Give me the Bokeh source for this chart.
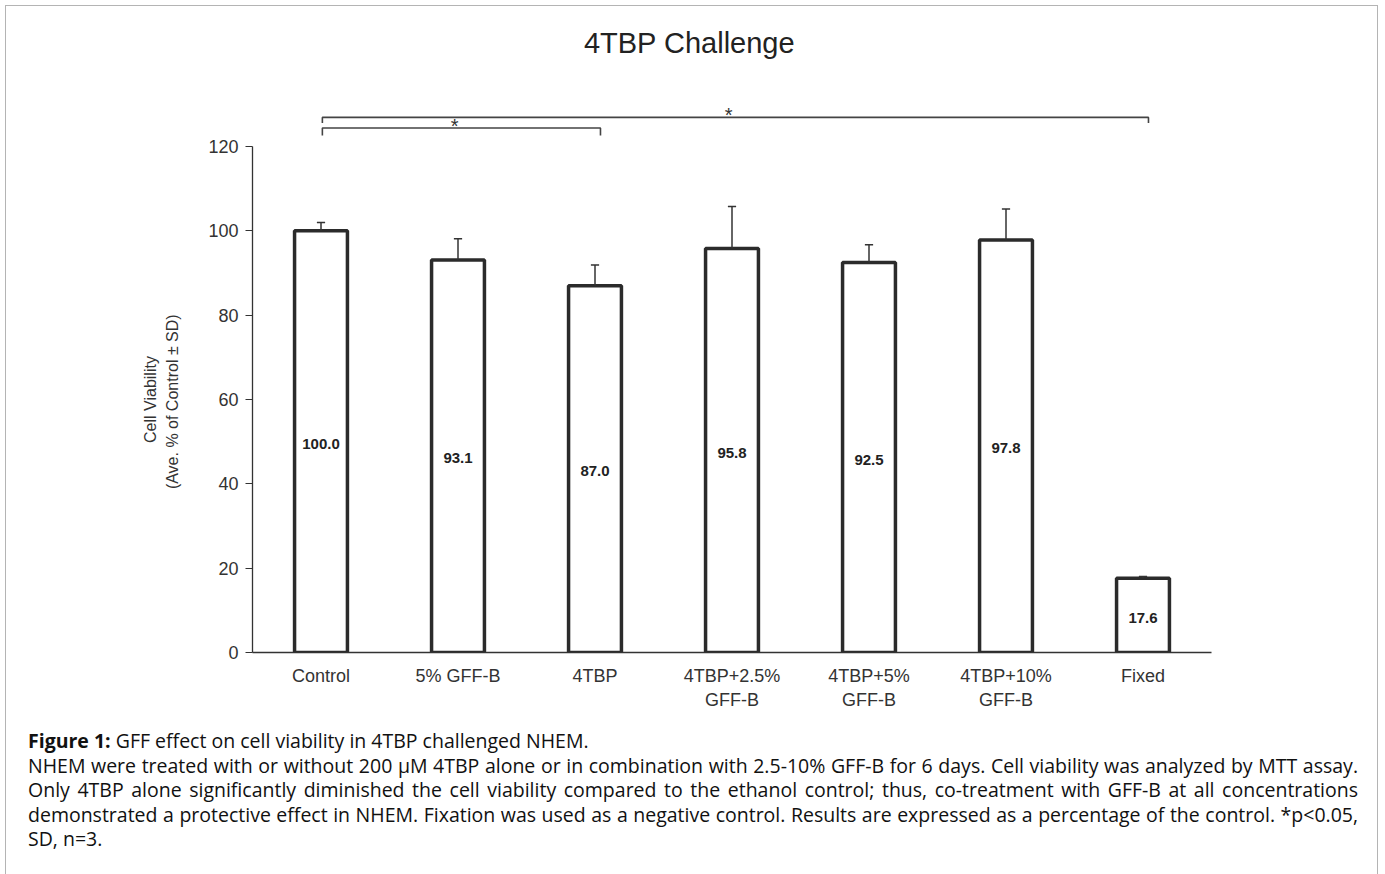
from bokeh.plotting import figure
from bokeh.models import Range1d, FixedTicker, Div
from bokeh.layouts import column
from bokeh.embed import file_html
from bokeh.resources import INLINE
from bokeh.core.properties import value

# ---------------- data ----------------
categories = ["Control", "5% GFF-B", "4TBP", "4TBP+2.5%\nGFF-B",
              "4TBP+5%\nGFF-B", "4TBP+10%\nGFF-B", "Fixed"]
viability = [100.0, 93.1, 87.0, 95.8, 92.5, 97.8, 17.6]
sd = [2.0, 5.0, 4.9, 10.0, 4.2, 7.4, 0.4]
y_ticks = [0, 20, 40, 60, 80, 100, 120]
# (from index, to index, mark)
significance = [(0, 6, "*"), (0, 2, "*")]
title_text = "4TBP Challenge"
ylabel_text = "Cell Viability\n(Ave.  % of Control \u00b1 SD)"
caption_lines = [
    "<b>Figure 1:</b> GFF effect on cell viability in 4TBP challenged NHEM.",
    "NHEM were treated with or without 200 \u00b5M 4TBP alone or in combination with 2.5-10% GFF-B for 6 days. Cell viability was analyzed by MTT assay.",
    "Only 4TBP alone significantly diminished the cell viability compared to the ethanol control; thus, co-treatment with GFF-B at all concentrations",
    "demonstrated a protective effect in NHEM. Fixation was used as a negative control. Results are expressed as a percentage of the control. *p&lt;0.05,",
    "SD, n=3.",
]

FONT = "Liberation Sans"
n = len(categories)
xs = [i + 0.5 for i in range(n)]
W = 1373
BL, BR = 246, 166

# ---------------- top strip: title + significance brackets ----------------
top = figure(width=W, height=130, output_backend="svg", toolbar_location=None,
             x_range=Range1d(0, n), y_range=Range1d(122.37, 149.88),
             min_border_left=BL, min_border_right=BR, min_border_top=14,
             min_border_bottom=0, outline_line_color=None)
top.axis.visible = False
top.grid.visible = False

levels = [126.9, 124.4]
drop = [1.3, 1.8]
for k, (i, j, mark) in enumerate(significance):
    a, b = xs[i] + 0.01, xs[j] + 0.04
    yl = levels[k]
    top.line(x=[a, a, b, b], y=[yl - drop[k], yl, yl, yl - drop[k]],
             line_color="#444444", line_width=1.6)
    top.text(x=[(a + b) / 2 - 0.05], y=[yl + 0.5], text=[mark],
             text_font=value(FONT), text_font_size="20px", text_color="#333333",
             text_align="center", text_baseline="middle")

top.text(x=[3.19], y=[144.6], text=[title_text], text_font=value(FONT),
         text_font_size="29px", text_color="#222222",
         text_align="center", text_baseline="middle")

# ---------------- main chart ----------------
p = figure(width=W, height=585, output_backend="svg", toolbar_location=None,
           x_range=top.x_range, y_range=Range1d(0, 120),
           min_border_left=BL, min_border_right=BR, min_border_top=10,
           min_border_bottom=69, outline_line_color=None)
p.grid.visible = False

p.xaxis.ticker = FixedTicker(ticks=xs)
p.xaxis.major_label_overrides = {x: c for x, c in zip(xs, categories)}
p.xaxis.major_tick_line_color = None
p.xaxis.minor_tick_line_color = None
p.xaxis.axis_line_color = "#333333"
p.xaxis.axis_line_width = 1.3
p.xaxis.major_label_text_font = FONT
p.xaxis.major_label_text_font_size = "18px"
p.xaxis.major_label_text_color = "#333333"
p.xaxis.major_label_standoff = 7

p.yaxis.ticker = FixedTicker(ticks=y_ticks)
p.yaxis.minor_tick_line_color = None
p.yaxis.major_tick_in = 0
p.yaxis.major_tick_out = 7
p.yaxis.major_tick_line_color = "#333333"
p.yaxis.axis_line_color = "#333333"
p.yaxis.axis_line_width = 1.3
p.yaxis.major_label_text_font = FONT
p.yaxis.major_label_text_font_size = "18px"
p.yaxis.major_label_text_color = "#333333"
p.yaxis.major_label_standoff = 7
p.yaxis.axis_label = ylabel_text
p.yaxis.axis_label_text_font = FONT
p.yaxis.axis_label_text_font_style = "normal"
p.yaxis.axis_label_text_font_size = "16px"
p.yaxis.axis_label_text_line_height = 1.35
p.yaxis.axis_label_text_color = "#333333"
p.yaxis.axis_label_standoff = 24

p.vbar(x=xs, top=viability, width=0.386, fill_color="white",
       line_color="#2b2b2b", line_width=3.5)

tops = [v + s for v, s in zip(viability, sd)]
cap = 0.03
p.segment(x0=xs, y0=viability, x1=xs, y1=tops, line_color="#333333", line_width=1.5)
p.segment(x0=[x - cap for x in xs], y0=tops, x1=[x + cap for x in xs], y1=tops,
          line_color="#333333", line_width=1.5)

p.text(x=xs, y=[v / 2 - 0.5 for v in viability], text=[f"{v:.1f}" for v in viability],
       text_font=value(FONT), text_font_style="bold", text_font_size="15px",
       text_color="#222222", text_align="center", text_baseline="middle")

# ---------------- caption ----------------
rows = []
for k, line in enumerate(caption_lines):
    justify = 0 < k < len(caption_lines) - 1
    st = ("text-align:justify;text-align-last:justify;white-space:nowrap;" if justify
          else "text-align:left;white-space:nowrap;")
    rows.append(f'<div style="{st}">{line}</div>')
html = ('<div style="font-family:\'Open Sans\';font-size:19.5px;line-height:24.5px;color:#111;'
        'width:1330px;margin:3px 0 0 17px;">' + "".join(rows) + "</div>")
cap_div = Div(text=html, width=W, height=152)

layout = column(top, p, cap_div, width=W, sizing_mode="fixed",
                styles={"border": "1px solid #b4b4b4", "margin": "5px 0 0 5px"})

open("out.html", "w").write(file_html(layout, INLINE))
